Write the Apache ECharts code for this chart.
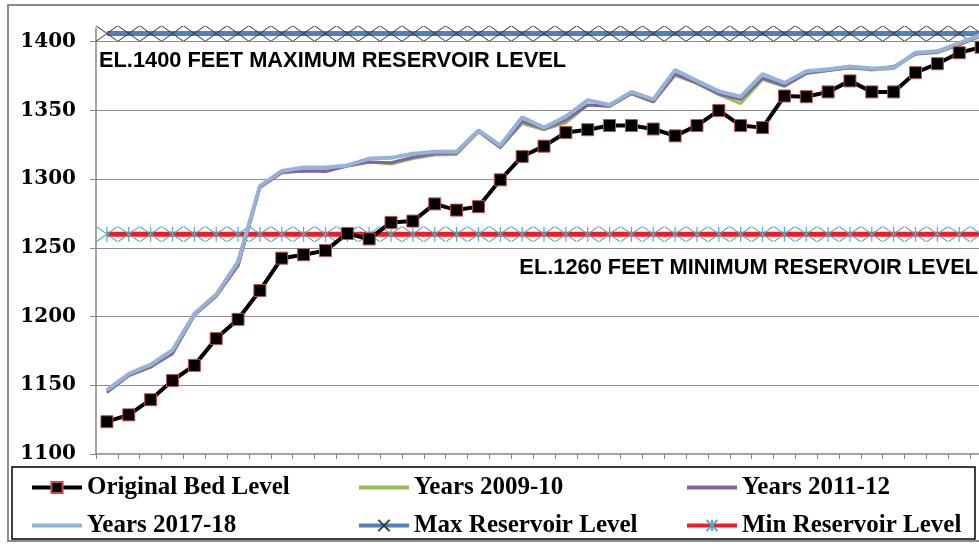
<!DOCTYPE html>
<html>
<head>
<meta charset="utf-8">
<script src="https://cdn.jsdelivr.net/npm/echarts@6/dist/echarts.min.js"></script>
<style>html,body{margin:0;padding:0;background:#fff}#c{width:979px;height:548px}</style>
</head>
<body>
<div id="c"></div>
<script>
const categories = ["1","2","3","4","5","6","7","8","9","10","11","12","13","14","15","16","17","18","19","20","21","22","23","24","25","26","27","28","29","30","31","32","33","34","35","36","37","38","39","40","41"];
const originalBed = [1123.5,1128.5,1139.5,1153.5,1164.5,1184,1198,1219,1242.5,1245,1248,1260.5,1256.5,1268.5,1269.5,1282,1277.5,1280,1299.5,1316.5,1324,1334,1336,1339,1339,1336.5,1331.5,1339,1350,1339,1337.5,1360.5,1360,1363.5,1371.5,1363.5,1363.5,1377.5,1384,1392,1396];
const years2009 = [1144.5,1157,1163,1173.5,1201,1214.5,1237.5,1294,1304.5,1306,1306.5,1309.5,1312.5,1311,1315,1317.5,1318,1334.5,1323,1340.5,1336,1341,1354,1353,1362,1356,1375.5,1369.5,1361.5,1355,1372.5,1367.5,1377,1379,1381,1379.5,1380.5,1391,1392,1398,1404];
const years2011 = [1145,1157,1163.5,1173,1201,1215,1237,1294,1305,1306,1305.5,1309.5,1312.5,1312,1316,1318.5,1319,1335,1323,1342,1336.5,1343,1354,1353,1362.5,1356.5,1376.5,1370,1362,1358,1373.5,1368,1377,1379,1381,1380,1382,1391,1392.5,1398,1404.5];
const years2017 = [1146.5,1158.3,1165,1175.5,1202,1216,1240,1295,1306,1308.5,1308.5,1310,1315,1315.5,1318.5,1320,1320,1335.5,1324.5,1345,1337.5,1345.5,1357.5,1354,1363.5,1358,1379.5,1371.5,1364,1360,1376.5,1370,1378.5,1380,1382,1380.5,1381,1392,1393,1399,1405];
const maxReservoir = [1406,1406,1406,1406,1406,1406,1406,1406,1406,1406,1406,1406,1406,1406,1406,1406,1406,1406,1406,1406,1406,1406,1406,1406,1406,1406,1406,1406,1406,1406,1406,1406,1406,1406,1406,1406,1406,1406,1406,1406,1406];
const minReservoir = [1260,1260,1260,1260,1260,1260,1260,1260,1260,1260,1260,1260,1260,1260,1260,1260,1260,1260,1260,1260,1260,1260,1260,1260,1260,1260,1260,1260,1260,1260,1260,1260,1260,1260,1260,1260,1260,1260,1260,1260,1260];
const yMin = 1100, yMax = 1410, yStep = 50;
const maxText = "EL.1400 FEET MAXIMUM RESERVOIR LEVEL";
const minText = "EL.1260 FEET MINIMUM RESERVOIR LEVEL";

const chart = echarts.init(document.getElementById('c'));
const legendText = {fontFamily: 'Liberation Serif', fontWeight: 'bold', fontSize: 25, color: '#000', lineHeight: 22};
const legendBase = {orient: 'vertical', top: 475, itemWidth: 50, itemHeight: 14, itemGap: 13, textStyle: legendText,
  selectedMode: false, padding: 0, lineStyle: {width: 4}};
const noSym = {color: 'rgba(0,0,0,0)', borderWidth: 0, opacity: 0};
const option = {
  animation: false,
  backgroundColor: '#fff',
  grid: {left: 96, top: 28, width: 896, height: 426, outerBoundsMode: 'none', containLabel: false},
  xAxis: {
    type: 'category', data: categories, boundaryGap: true,
    axisLine: {lineStyle: {color: '#868686', width: 1.5}},
    axisTick: {show: true, interval: 0, length: 5, lineStyle: {color: '#868686'}},
    axisLabel: {show: false}, splitLine: {show: false}
  },
  yAxis: {
    type: 'value', min: yMin, max: yMax, interval: yStep,
    axisLine: {show: true, lineStyle: {color: '#868686', width: 1.5}},
    axisTick: {show: true, length: 6, lineStyle: {color: '#868686'}},
    axisLabel: {showMaxLabel: false, margin: 20, fontFamily: 'DejaVu Serif', fontWeight: 'bold', fontSize: 20, color: '#000',
      formatter: function (v) { return String(v); }},
    splitLine: {show: true, showMinLine: false, showMaxLine: false, lineStyle: {color: '#8c8c8c', width: 1}}
  },
  legend: [
    Object.assign({left: 30, data: ['Original Bed Level', {name: 'Years 2017-18', itemStyle: noSym}]}, legendBase),
    Object.assign({left: 357, data: [{name: 'Years 2009-10', itemStyle: noSym}, 'Max Reservoir Level']}, legendBase),
    Object.assign({left: 685, data: [{name: 'Years 2011-12', itemStyle: noSym}, 'Min Reservoir Level']}, legendBase)
  ],
  graphic: [
    {type: 'rect', shape: {x: 8, y: 5, width: 990, height: 536}, style: {fill: 'none', stroke: '#8c8c8c', lineWidth: 2}, silent: true, z: 0},
    {type: 'rect', shape: {x: 12, y: 467, width: 963, height: 72}, style: {fill: 'none', stroke: '#000', lineWidth: 1.5}, silent: true},
    {type: 'text', x: 99, y: 61, style: {text: maxText, font: 'bold 21.8px "Liberation Sans"', fill: '#000', verticalAlign: 'middle', align: 'left'}, silent: true},
    {type: 'text', x: 978, y: 268, style: {text: minText, font: 'bold 21.8px "Liberation Sans"', fill: '#000', verticalAlign: 'middle', align: 'right'}, silent: true}
  ],
  series: [
    {name: 'Max Reservoir Level', type: 'line', data: maxReservoir, z: 2, showAllSymbol: true,
     symbol: 'path://M0,0L20,15M20,0L0,15', symbolSize: [21, 15],
     lineStyle: {color: '#4F81BD', width: 5},
     itemStyle: {color: 'rgba(0,0,0,0)', borderColor: '#3a3a3a', borderWidth: 1}},
    {name: 'Min Reservoir Level', type: 'line', data: minReservoir, z: 2, showAllSymbol: true,
     symbol: 'path://M0,0L20,15M20,0L0,15M10,0L10,15', symbolSize: [21, 15],
     lineStyle: {color: '#EE1C25', width: 5},
     itemStyle: {color: 'rgba(0,0,0,0)', borderColor: '#4BACC6', borderWidth: 1}},
    {name: 'Original Bed Level', type: 'line', data: originalBed, z: 3, showAllSymbol: true,
     symbol: 'rect', symbolSize: 12,
     lineStyle: {color: '#000', width: 4},
     itemStyle: {color: '#000', borderColor: '#C0504D', borderWidth: 1}},
    {name: 'Years 2009-10', type: 'line', data: years2009, z: 3, symbol: 'none',
     lineStyle: {color: '#9BBB59', width: 3}, itemStyle: {color: '#9BBB59'}},
    {name: 'Years 2011-12', type: 'line', data: years2011, z: 3, symbol: 'none',
     lineStyle: {color: '#8064A2', width: 3}, itemStyle: {color: '#8064A2'}},
    {name: 'Years 2017-18', type: 'line', data: years2017, z: 3, symbol: 'none',
     lineStyle: {color: '#95B3D7', width: 4}, itemStyle: {color: '#95B3D7'}}
  ]
};
chart.setOption(option);
</script>
</body>
</html>
